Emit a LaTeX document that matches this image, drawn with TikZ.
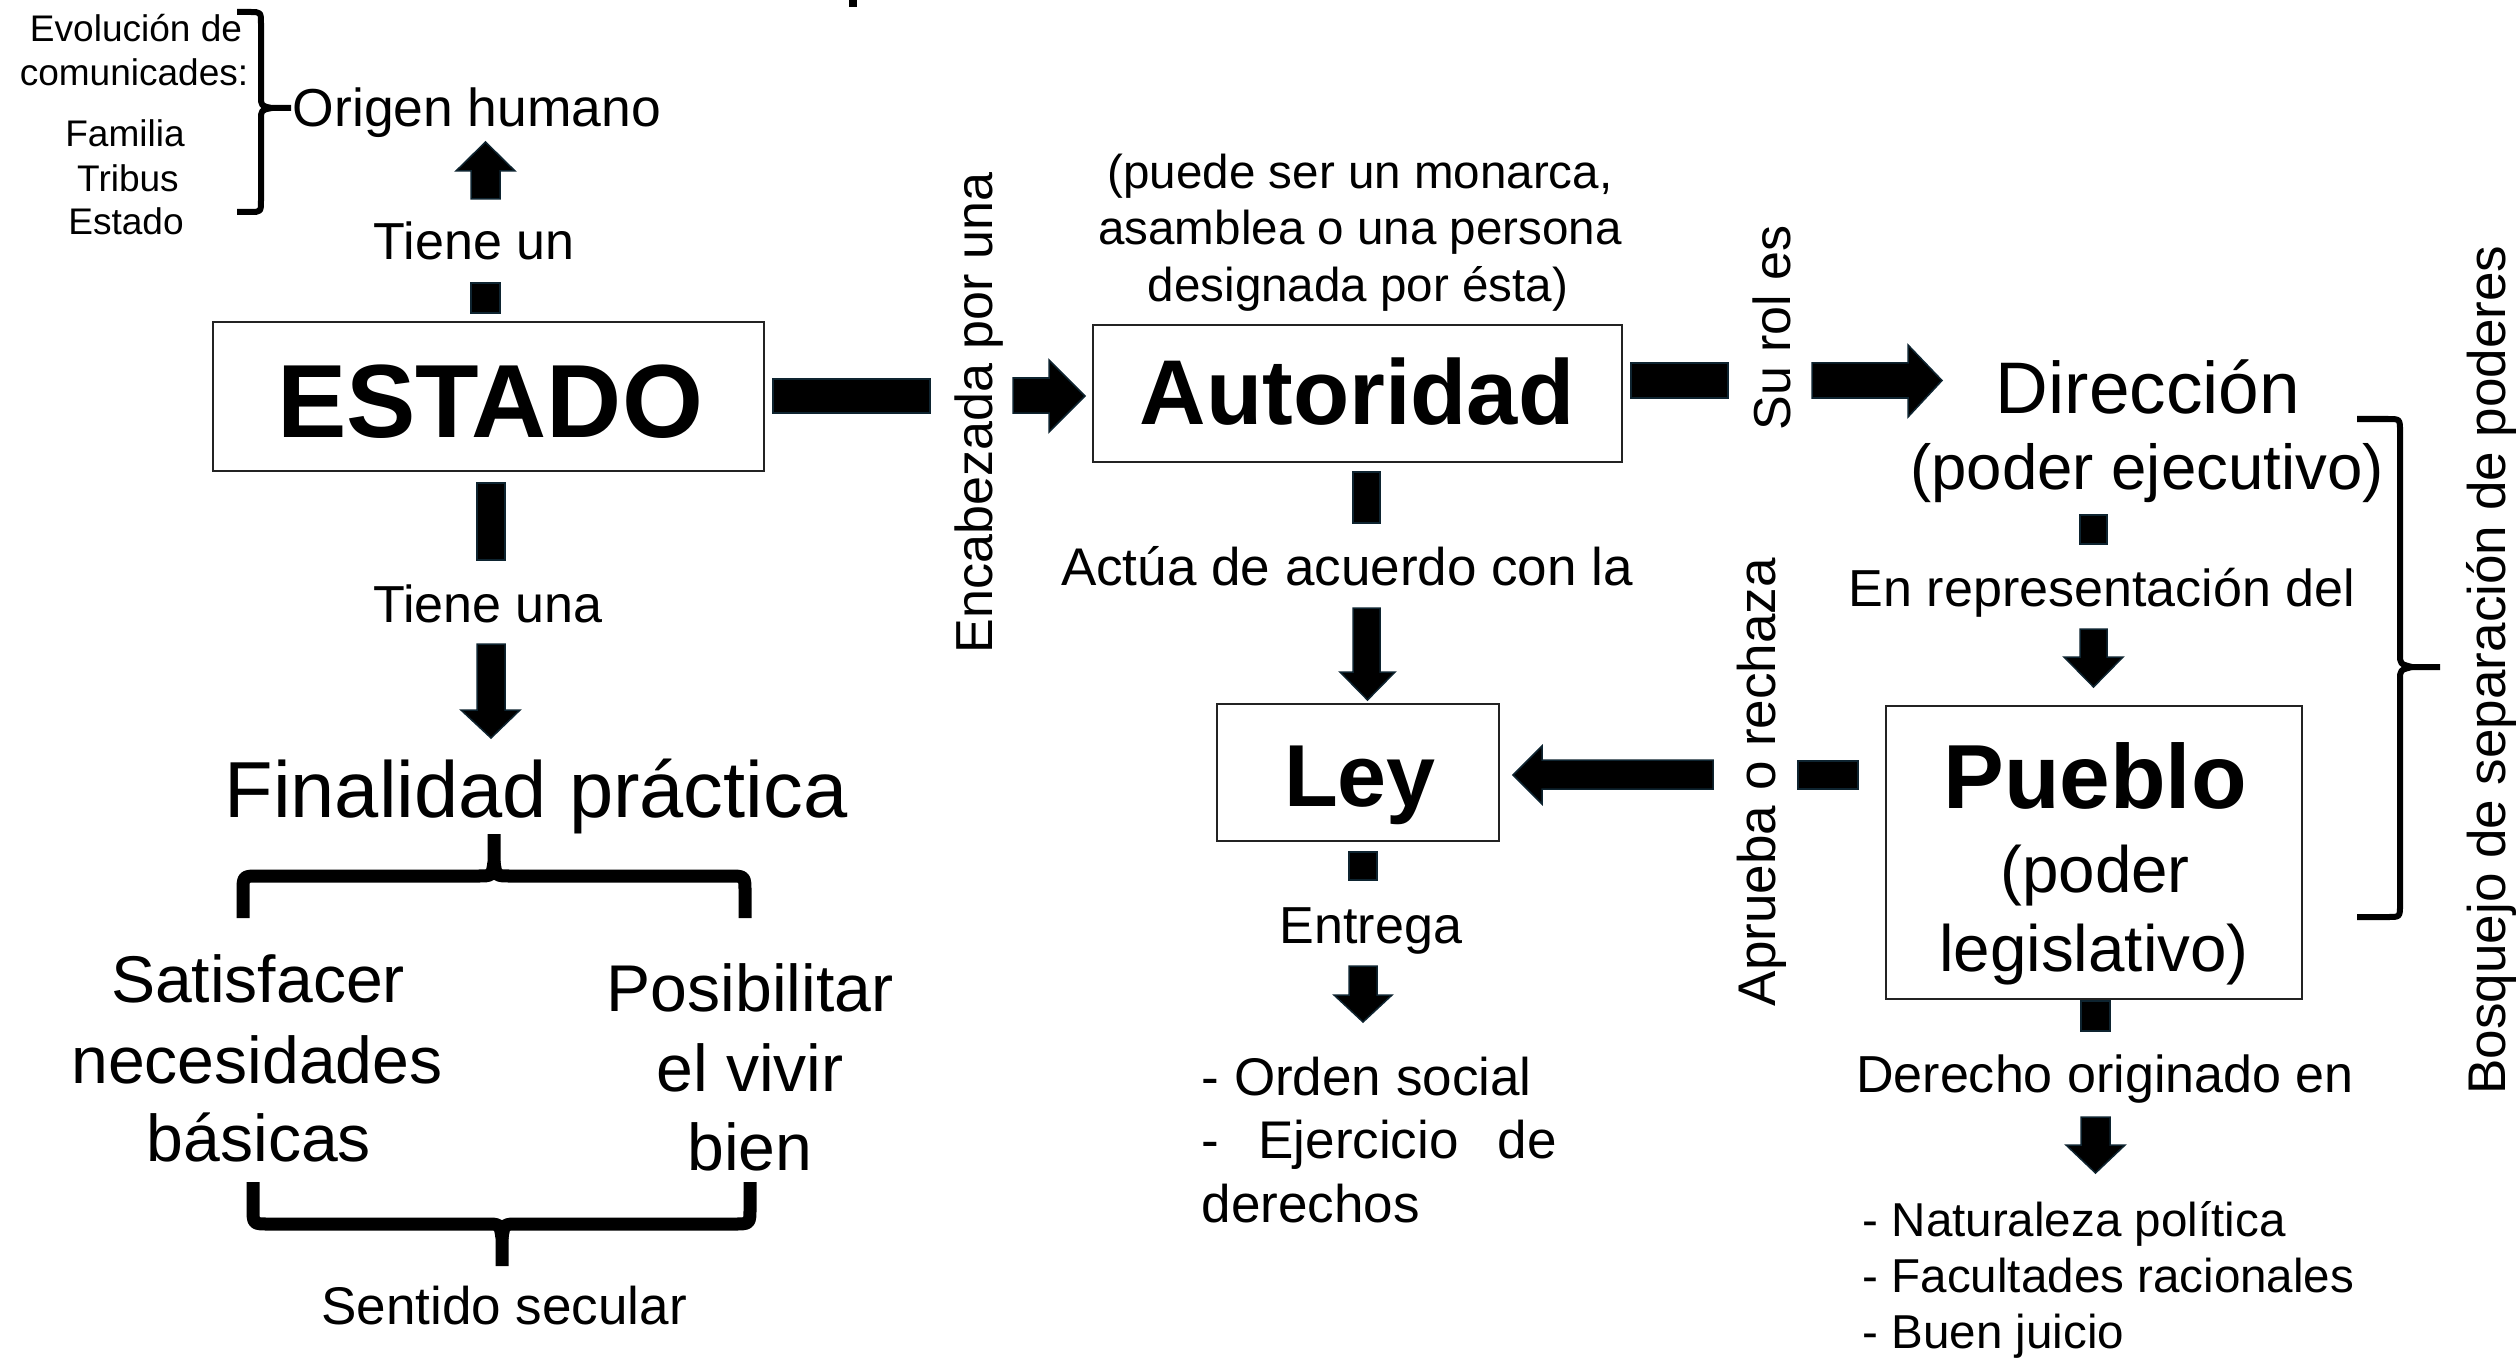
\documentclass[tikz,border=0pt]{standalone}
\usepackage{fontspec}
\setmainfont{Liberation Sans}
\definecolor{arrowedge}{RGB}{14,36,48}
\definecolor{boxedge}{RGB}{35,35,35}
\newcommand{\fzA}{\fontsize{10.53pt}{12pt}\selectfont}
\newcommand{\fzB}{\fontsize{13.52pt}{16pt}\selectfont}
\newcommand{\fzC}{\fontsize{15.2pt}{18pt}\selectfont}
\newcommand{\fzD}{\fontsize{14.80pt}{17pt}\selectfont}
\newcommand{\fzE}{\fontsize{15.08pt}{18pt}\selectfont}
\newcommand{\fzPE}{\fontsize{18.07pt}{21pt}\selectfont}
\newcommand{\fzPL}{\fontsize{18.64pt}{22pt}\selectfont}
\newcommand{\fzS}{\fontsize{18.80pt}{22pt}\selectfont}
\newcommand{\fzDir}{\fontsize{20.77pt}{24pt}\selectfont}
\newcommand{\fzFin}{\fontsize{22.6pt}{26pt}\selectfont}
\newcommand{\fzLey}{\fontsize{25.04pt}{30pt}\bfseries\selectfont}
\newcommand{\fzPue}{\fontsize{25.89pt}{30pt}\bfseries\selectfont}
\newcommand{\fzAut}{\fontsize{26.18pt}{30pt}\bfseries\selectfont}
\newcommand{\fzEST}{\fontsize{29.59pt}{34pt}\bfseries\selectfont}
\begin{document}
\begin{tikzpicture}[x=0.01cm,y=-0.01cm,
  barrow/.style={fill=black,draw=arrowedge,line width=0.15mm,line join=miter},
  boxnode/.style={draw=boxedge,line width=0.22mm,inner sep=0,fill=white},
  txt/.style={anchor=base,inner sep=0,text=black},
  ltxt/.style={anchor=base west,inner sep=0,text=black},
  rtxt/.style={anchor=base,inner sep=0,rotate=90,text=black},
  bracethin/.style={line width=0.6mm,line cap=butt,line join=round},
  bracethick/.style={line width=1.3mm,line cap=butt,line join=round}]
\useasboundingbox (0,0) rectangle (2519,1358);
\fill[white] (0,0) rectangle (2519,1358);
% cut-off mark at top
\fill (849,0) rectangle (857,7);

% ---------- top left ----------
\node[txt,font=\fzA] (evo) at (136,42) {Evolución de};
\node[txt,font=\fzA] (com) at (134,86) {comunicades:};
\node[txt,font=\fzA] (fam) at (125,147) {Familia};
\node[txt,font=\fzA] (tri) at (128,192) {Tribus};
\node[txt,font=\fzA] (est) at (126,235) {Estado};
\draw[bracethin] (237,12) -- (250,12) .. controls (261,12) .. (261,24) -- (261,96) .. controls (261,106) .. (272,108) -- (291,108);
\draw[bracethin] (272,108) .. controls (261,110) .. (261,120) -- (261,200) .. controls (261,212) .. (250,212) -- (237,212);
\node[txt,font=\fzC] (origen) at (477,127) {Origen humano};

% ---------- ESTADO column ----------
\draw[barrow] (471,199) -- (471,171) -- (456,171) -- (485.5,142) -- (515,171) -- (500,171) -- (500,199) -- cycle;
\node[txt,font=\fzD] (tieneun) at (474,260) {Tiene un};
\draw[barrow] (471,283) rectangle (500,313);
\node[boxnode,minimum width=55.1mm,minimum height=14.9mm] (estado) at (488.5,396.5) {};
\node[txt,font=\fzEST] (estadot) at (490,437) {ESTADO};
\draw[barrow] (477,483) rectangle (505,560);
\node[txt,font=\fzD] (tieneuna) at (488,622) {Tiene una};
\draw[barrow] (477,644) -- (477,710) -- (461,710) -- (491,738) -- (520,710) -- (505,710) -- (505,644) -- cycle;
\node[txt,font=\fzFin] (fin) at (536,817) {Finalidad práctica};

% braces under Finalidad
\draw[bracethick] (243,918) -- (243,892) .. controls (243,876) .. (259,876) -- (478,876) .. controls (492,876) .. (494,862) -- (494,834);
\draw[bracethick] (494,862) .. controls (496,876) .. (510,876) -- (729,876) .. controls (745,876) .. (745,892) -- (745,918);
\node[txt,font=\fzS] (sat1) at (258,1002) {Satisfacer};
\node[txt,font=\fzS] (sat2) at (257,1083) {necesidades};
\node[txt,font=\fzS] (sat3) at (259,1161) {básicas};
\node[txt,font=\fzS] (pos1) at (750,1011) {Posibilitar};
\node[txt,font=\fzS] (pos2) at (750,1091) {el vivir};
\node[txt,font=\fzS] (pos3) at (750,1170) {bien};
\draw[bracethick] (253,1182) -- (253,1208) .. controls (253,1224) .. (269,1224) -- (486,1224) .. controls (500,1224) .. (502,1238) -- (502,1266);
\draw[bracethick] (502,1238) .. controls (504,1224) .. (518,1224) -- (734,1224) .. controls (750,1224) .. (750,1208) -- (750,1182);
\node[txt,font=\fzE] (secular) at (504,1324) {Sentido secular};

% ---------- ESTADO -> Autoridad ----------
\draw[barrow] (773,379) rectangle (930,413);
\node[rtxt,font=\fzD] (enc) at (992,413) {Encabezada por una};
\draw[barrow] (1013,378) -- (1049,378) -- (1049,360) -- (1085,396) -- (1049,432) -- (1049,413) -- (1013,413) -- cycle;

% ---------- Autoridad ----------
\node[txt,font=\fzB] (par1) at (1360,189) {(puede ser un monarca,};
\node[txt,font=\fzB] (par2) at (1360,245) {asamblea o una persona};
\node[txt,font=\fzB] (par3) at (1358,302) {designada por ésta)};
\node[boxnode,minimum width=52.9mm,minimum height=13.7mm] (aut) at (1357.5,393.5) {};
\node[txt,font=\fzAut] (autt) at (1357,425) {Autoridad};
\draw[barrow] (1631,363) rectangle (1728,398);
\node[rtxt,font=\fzD] (surol) at (1790,328) {Su rol es};
\draw[barrow] (1812,363) -- (1908,363) -- (1908,345) -- (1942,380.5) -- (1908,417) -- (1908,398) -- (1812,398) -- cycle;
\draw[barrow] (1353,472) rectangle (1380,523);
\node[txt,font=\fzE] (actua) at (1347,585) {Actúa de acuerdo con la};
\draw[barrow] (1353,608) -- (1353,672) -- (1340,672) -- (1367.5,700) -- (1395,672) -- (1380,672) -- (1380,608) -- cycle;

% ---------- Ley ----------
\node[boxnode,minimum width=28.2mm,minimum height=13.7mm] (ley) at (1358,772.5) {};
\node[txt,font=\fzLey] (leyt) at (1360,806) {Ley};
\draw[barrow] (1713,760) -- (1542,760) -- (1542,746) -- (1513,775) -- (1542,804) -- (1542,789) -- (1713,789) -- cycle;
\node[rtxt,font=\fzE] (apr) at (1775,782) {Aprueba o rechaza};
\draw[barrow] (1798,761) rectangle (1858,789);
\draw[barrow] (1349,852) rectangle (1377,880);
\node[txt,font=\fzD] (ent) at (1371,943) {Entrega};
\draw[barrow] (1349,966) -- (1349,995) -- (1334,995) -- (1363,1022) -- (1392,995) -- (1377,995) -- (1377,966) -- cycle;
\node[ltxt,font=\fzE] (ord) at (1201,1095) {- Orden social};
\node[ltxt,font=\fzE] (eje) at (1201,1158) {\makebox[35.5mm][s]{- Ejercicio de}};
\node[ltxt,font=\fzE] (drc) at (1201,1222) {derechos};

% ---------- Dirección / Pueblo ----------
\node[txt,font=\fzDir] (dir) at (2148,413) {Dirección};
\node[txt,font=\fzPE] (pe) at (2147,489) {(poder ejecutivo)};
\draw[barrow] (2080,515) rectangle (2107,544);
\node[txt,font=\fzD] (enrep) at (2102,606) {En representación del};
\draw[barrow] (2080,629) -- (2080,657) -- (2064,657) -- (2093.5,687) -- (2123,657) -- (2107,657) -- (2107,629) -- cycle;
\node[boxnode,minimum width=41.6mm,minimum height=29.3mm] (pueblo) at (2094,852.5) {};
\node[txt,font=\fzPue] (pue1) at (2095,808) {Pueblo};
\node[txt,font=\fzPL] (pue2) at (2095,892) {(poder};
\node[txt,font=\fzPL] (pue3) at (2094,971) {legislativo)};
\draw[barrow] (2081,1001) rectangle (2110,1031);
\node[txt,font=\fzD] (der) at (2105,1092) {Derecho originado en};
\draw[barrow] (2081,1117) -- (2081,1145) -- (2066,1145) -- (2095.5,1173) -- (2125,1145) -- (2110,1145) -- (2110,1117) -- cycle;
\node[ltxt,font=\fzB] (nat) at (1862,1236) {- Naturaleza política};
\node[ltxt,font=\fzB] (fac) at (1862,1292) {- Facultades racionales};
\node[ltxt,font=\fzB] (bue) at (1862,1348) {- Buen juicio};

% ---------- right brace ----------
\draw[bracethin] (2357,419) -- (2388,419) .. controls (2400,419) .. (2400,432) -- (2400,654) .. controls (2400,664) .. (2412,667) -- (2440,667);
\draw[bracethin] (2412,667) .. controls (2400,670) .. (2400,680) -- (2400,904) .. controls (2400,917) .. (2388,917) -- (2357,917);
\node[rtxt,font=\fzE] (bosq) at (2505,670) {Bosquejo de separación de poderes};
\end{tikzpicture}
\end{document}
